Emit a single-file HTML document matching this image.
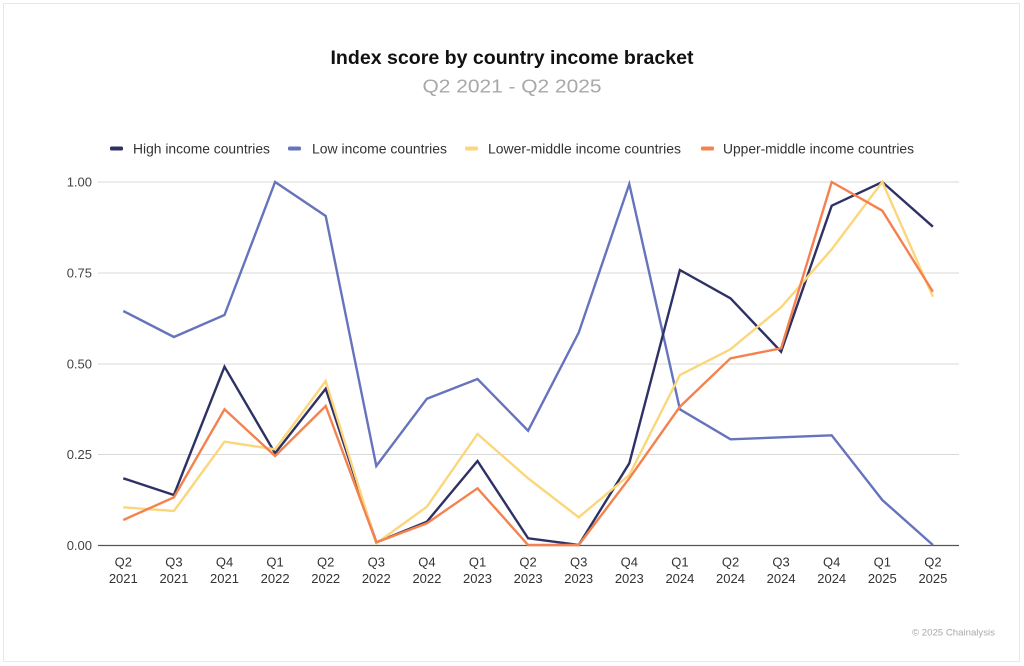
<!DOCTYPE html>
<html>
<head>
<meta charset="utf-8">
<style>
  html, body { margin:0; padding:0; background:#ffffff; }
  body { width:1024px; height:666px; overflow:hidden; }
  svg { display:block; }
  text { font-family: "Liberation Sans", "DejaVu Sans", sans-serif; }
</style>
</head>
<body>
<svg width="1024" height="666" viewBox="0 0 1024 666" xmlns="http://www.w3.org/2000/svg">
  <rect x="0" y="0" width="1024" height="666" fill="#ffffff"/>
  <rect x="3.5" y="3.5" width="1016" height="658" fill="none" stroke="#e8e8e8" stroke-width="1"/>

  <!-- Title -->
  <text x="512" y="64" text-anchor="middle" font-size="19.5" font-weight="bold" fill="#111" textLength="363" lengthAdjust="spacingAndGlyphs">Index score by country income bracket</text>
  <text x="512" y="92.5" text-anchor="middle" font-size="18" fill="#a8a8a8" textLength="179" lengthAdjust="spacingAndGlyphs">Q2 2021 - Q2 2025</text>

  <!-- Legend -->
  <rect x="110" y="146.5" width="13" height="4" rx="1.5" fill="#2e3164"/>
  <text x="133" y="153.5" font-size="13.5" fill="#333" textLength="137" lengthAdjust="spacingAndGlyphs">High income countries</text>
  <rect x="288" y="146.5" width="13" height="4" rx="1.5" fill="#6673bd"/>
  <text x="312" y="153.5" font-size="13.5" fill="#333" textLength="135" lengthAdjust="spacingAndGlyphs">Low income countries</text>
  <rect x="465" y="146.5" width="13" height="4" rx="1.5" fill="#fbd67b"/>
  <text x="488" y="153.5" font-size="13.5" fill="#333" textLength="193" lengthAdjust="spacingAndGlyphs">Lower-middle income countries</text>
  <rect x="701" y="146.5" width="13" height="4" rx="1.5" fill="#f4824f"/>
  <text x="723" y="153.5" font-size="13.5" fill="#333" textLength="191" lengthAdjust="spacingAndGlyphs">Upper-middle income countries</text>

  <!-- Gridlines -->
  <g stroke="#d9d9d9" stroke-width="1">
    <line x1="98" y1="182" x2="959" y2="182"/>
    <line x1="98" y1="273" x2="959" y2="273"/>
    <line x1="98" y1="364" x2="959" y2="364"/>
    <line x1="98" y1="454.5" x2="959" y2="454.5"/>
  </g>
  <line x1="98" y1="545.5" x2="959" y2="545.5" stroke="#555" stroke-width="1.2"/>

  <!-- Y labels -->
  <g font-size="13" fill="#444" text-anchor="end">
    <text x="92" y="186.5">1.00</text>
    <text x="92" y="277.5">0.75</text>
    <text x="92" y="368.5">0.50</text>
    <text x="92" y="459">0.25</text>
    <text x="92" y="550">0.00</text>
  </g>

  <!-- X labels -->
  <g font-size="13" fill="#333" text-anchor="middle">
    <text x="123.3" y="566.5">Q2</text><text x="123.3" y="583">2021</text>
    <text x="173.9" y="566.5">Q3</text><text x="173.9" y="583">2021</text>
    <text x="224.5" y="566.5">Q4</text><text x="224.5" y="583">2021</text>
    <text x="275.1" y="566.5">Q1</text><text x="275.1" y="583">2022</text>
    <text x="325.7" y="566.5">Q2</text><text x="325.7" y="583">2022</text>
    <text x="376.3" y="566.5">Q3</text><text x="376.3" y="583">2022</text>
    <text x="426.9" y="566.5">Q4</text><text x="426.9" y="583">2022</text>
    <text x="477.5" y="566.5">Q1</text><text x="477.5" y="583">2023</text>
    <text x="528.1" y="566.5">Q2</text><text x="528.1" y="583">2023</text>
    <text x="578.7" y="566.5">Q3</text><text x="578.7" y="583">2023</text>
    <text x="629.3" y="566.5">Q4</text><text x="629.3" y="583">2023</text>
    <text x="679.9" y="566.5">Q1</text><text x="679.9" y="583">2024</text>
    <text x="730.5" y="566.5">Q2</text><text x="730.5" y="583">2024</text>
    <text x="781.1" y="566.5">Q3</text><text x="781.1" y="583">2024</text>
    <text x="831.7" y="566.5">Q4</text><text x="831.7" y="583">2024</text>
    <text x="882.3" y="566.5">Q1</text><text x="882.3" y="583">2025</text>
    <text x="932.9" y="566.5">Q2</text><text x="932.9" y="583">2025</text>
  </g>

  <!-- Series -->
  <g fill="none" stroke-width="2.4" stroke-linejoin="miter" stroke-linecap="butt">
    <!-- Low income -->
    <polyline stroke="#6673bd" points="123.3,311 173.9,337 224.5,315 275.1,182 325.7,216 376.3,466 426.9,398.7 477.5,379 528.1,430.7 578.7,332.7 629.3,184 679.9,409.3 730.5,439.3 781.1,437.3 831.7,435.3 882.3,500 932.9,545"/>
    <!-- High income -->
    <polyline stroke="#2e3164" points="123.3,478.3 173.9,495 224.5,366.7 275.1,453.3 325.7,388.7 376.3,542.3 426.9,521.7 477.5,461 528.1,538.3 578.7,545 629.3,463.3 679.9,270 730.5,298.3 781.1,351.7 831.7,205.7 882.3,182 932.9,226.7"/>
    <!-- Lower-middle -->
    <polyline stroke="#fbd67b" points="123.3,507.3 173.9,511 224.5,441.7 275.1,449.3 325.7,381 376.3,543.3 426.9,506.7 477.5,434 528.1,478.3 578.7,517.3 629.3,475 679.9,375 730.5,349.3 781.1,307.3 831.7,249.3 882.3,182 932.9,296.7"/>
    <!-- Upper-middle -->
    <polyline stroke="#f4824f" points="123.3,520 173.9,497.3 224.5,409.3 275.1,456 325.7,406 376.3,542.3 426.9,523.3 477.5,488.3 528.1,545 578.7,545 629.3,478.3 679.9,406.7 730.5,358.3 781.1,348.3 831.7,182 882.3,210.7 932.9,291.7"/>
  </g>

  <!-- Footer -->
  <text x="995" y="635.5" text-anchor="end" font-size="9.5" fill="#a8a8a8" textLength="83" lengthAdjust="spacingAndGlyphs">© 2025 Chainalysis</text>
</svg>
</body>
</html>
